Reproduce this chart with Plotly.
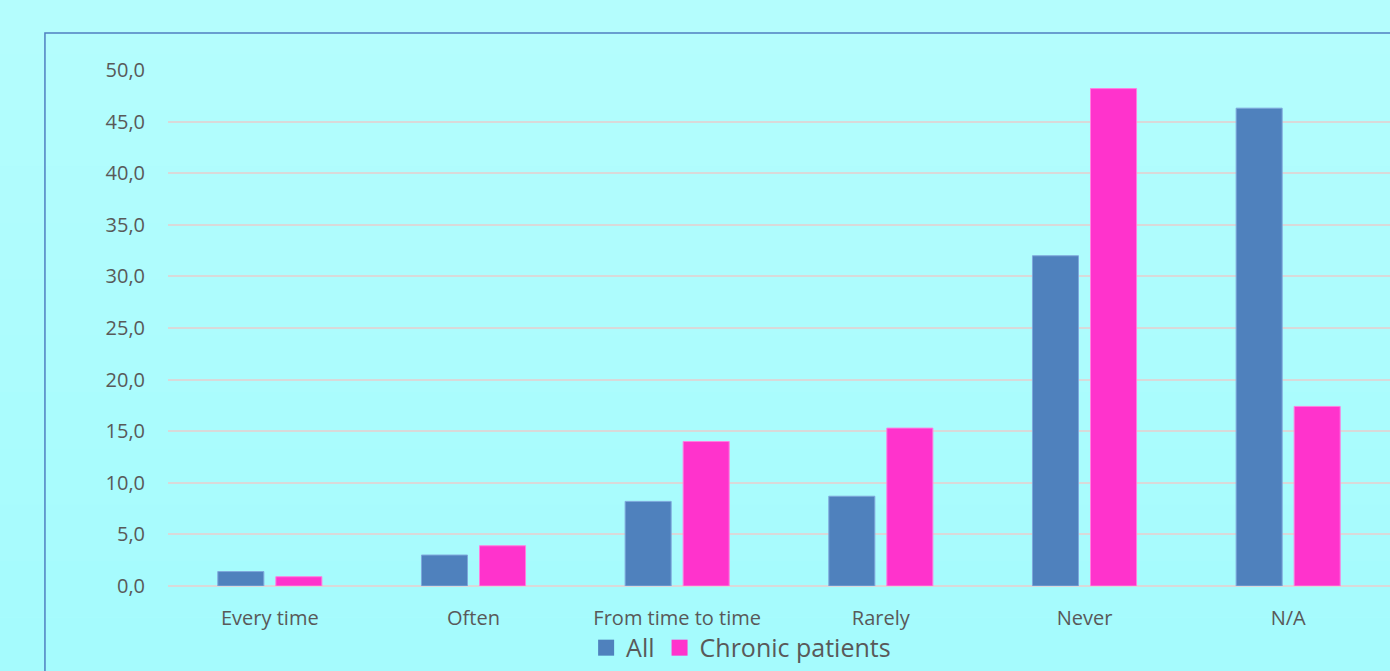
import plotly.graph_objects as go

categories = ["Every time", "Often", "From time to time", "Rarely", "Never", "N/A"]
all_vals = [1.4, 3.0, 8.2, 8.7, 32.0, 46.3]
chronic_vals = [0.9, 3.9, 14.0, 15.3, 48.2, 17.4]
y_ticks = [0, 5, 10, 15, 20, 25, 30, 35, 40, 45, 50]
series_names = ["All", "Chronic patients"]
series_colors = ["#4F81BD", "#FF33CC"]
edge_colors = ["#7FA8DC", "#FF7FE0"]

fig = go.Figure()
for name, vals, col, edge in zip(series_names, [all_vals, chronic_vals], series_colors, edge_colors):
    fig.add_trace(go.Bar(x=categories, y=vals, name=name, showlegend=False,
                         marker=dict(color=col, line=dict(color=edge, width=1))))
for name, col in zip(series_names, series_colors):
    fig.add_trace(go.Scatter(x=[None], y=[None], mode="markers", name=name,
                             marker=dict(symbol="square", size=17, color=col)))

font_fam = "Open Sans, Liberation Sans, sans-serif"
fig.update_layout(
    width=1390, height=671,
    margin=dict(l=168, r=0, t=70, b=85),
    paper_bgcolor="#ADFCFD",
    plot_bgcolor="rgba(0,0,0,0)",
    barmode="group", bargap=0.43, bargroupgap=0.207,
    separators=",.",
    font=dict(family=font_fam, color="#595959", size=20),
    showlegend=True,
    legend=dict(orientation="h", x=0.469, xanchor="center", y=-0.12, yanchor="middle",
                font=dict(size=25, color="#595959"), bgcolor="rgba(0,0,0,0)",
                itemwidth=30, tracegroupgap=0),
    xaxis=dict(showgrid=False, showline=False, ticks="", tickfont=dict(size=20),
               ticklabelstandoff=18),
    yaxis=dict(range=[0, 50], tickvals=y_ticks, tickformat=".1f",
               showgrid=True, gridcolor="#D9D9D9", gridwidth=1.5,
               zeroline=True, zerolinecolor="#D9D9D9", zerolinewidth=1.5,
               showline=False, ticks="", ticklabelstandoff=22,
               tickfont=dict(size=20)),
)

# background bands to emulate slight gradient
n = 12
top_c = (0xB4, 0xFD, 0xFD)
bot_c = (0xA5, 0xFB, 0xFD)
for i in range(n):
    t = i / (n - 1)
    c = tuple(round(top_c[k] + (bot_c[k] - top_c[k]) * t) for k in range(3))
    y1 = 1.14 - i * (1.14 + 0.17) / n
    y0 = 1.14 - (i + 1) * (1.14 + 0.17) / n
    fig.add_shape(type="rect", xref="paper", yref="paper", x0=-0.2, x1=1.1,
                  y0=y0, y1=y1, fillcolor="#%02X%02X%02X" % c, line=dict(width=0),
                  layer="below")

# frame border
fig.add_shape(type="rect", xref="paper", yref="paper",
              x0=-0.1007, x1=1.2, y0=-0.4, y1=1.0717,
              line=dict(color="#4F7FC0", width=1.5), fillcolor="rgba(0,0,0,0)",
              layer="below")

fig.write_html("out.html", config={"displayModeBar": False},
               post_script="document.body.style.margin='0';document.body.style.overflow='hidden';")
